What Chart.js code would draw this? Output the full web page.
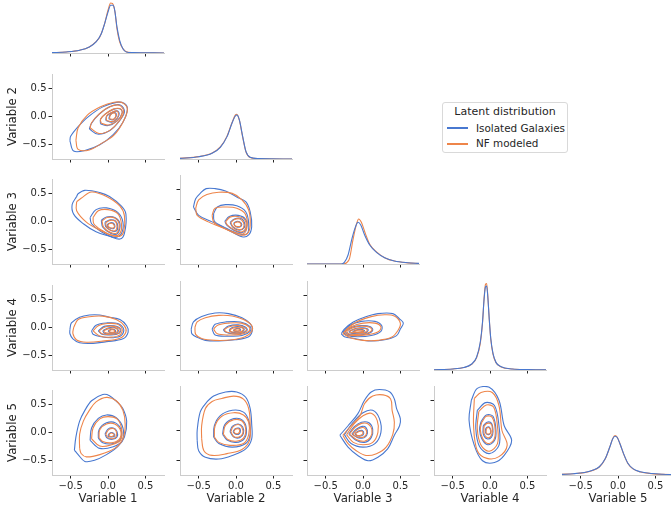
<!DOCTYPE html>
<html>
<head>
<meta charset="utf-8">
<script src="https://cdn.jsdelivr.net/npm/chart.js@4.4.0/dist/chart.umd.min.js"></script>
<style>
html, body { margin: 0; padding: 0; background: #fff; overflow: hidden; }
body { width: 671px; height: 510px; position: relative; font-family: 'DejaVu Sans', sans-serif; color: #262626; }
.panel { position: absolute; }
#legend { position: absolute; left: 442px; top: 102px; width: 124px; height: 49px; border: 1px solid #d9d9d9; border-radius: 3px; background: rgba(255,255,255,0.8); }
#legend .title { position: absolute; left: 0; right: 0; top: 2px; text-align: center; font-size: 11px; line-height: 13px; }
#legend .item { position: absolute; left: 33px; font-size: 10.4px; line-height: 12px; white-space: nowrap; }
#legend .swatch { position: absolute; left: 4px; width: 21px; height: 1.5px; }
</style>
</head>
<body>
<div id="legend">
  <div class="title">Latent distribution</div>
  <div class="swatch" id="sw0" style="top:24px"></div>
  <div class="item" id="lb0" style="top:18.5px"></div>
  <div class="swatch" id="sw1" style="top:40px"></div>
  <div class="item" id="lb1" style="top:34px"></div>
</div>
<script>
const varNames = ['Variable 1', 'Variable 2', 'Variable 3', 'Variable 4', 'Variable 5'];
const seriesNames = ['Isolated Galaxies', 'NF modeled'];
const tickValues = [-0.5, 0, 0.5];

// 1-D densities on the diagonal: [value, density]
const kdeGal1 = [[-0.75,0.03],[-0.56,0.08],[-0.38,0.21],[-0.25,0.47],[-0.16,0.87],[-0.09,1.52],[-0.045,2.31],[0.0,3.22],[0.036,3.75],[0.067,3.75],[0.09,3.36],[0.12,2.05],[0.156,1.0],[0.2,0.34],[0.246,0.08],[0.33,0.03],[0.75,0.0]];
const kdeNf1 = [[-0.75,0.02],[-0.56,0.08],[-0.38,0.22],[-0.25,0.48],[-0.16,0.9],[-0.11,1.26],[-0.045,2.31],[0.0,3.36],[0.036,3.93],[0.06,3.9],[0.094,3.22],[0.12,1.91],[0.156,0.87],[0.21,0.26],[0.27,0.05],[0.4,0.02],[0.75,0.0]];
const kdeGal2 = [[-0.75,0.05],[-0.5,0.18],[-0.32,0.45],[-0.21,0.92],[-0.12,1.76],[-0.054,2.81],[-0.009,3.38],[0.013,3.46],[0.045,3.07],[0.09,1.76],[0.134,0.58],[0.19,0.13],[0.30,0.03],[0.75,0.0]];
const kdeNf2 = [[-0.75,0.05],[-0.5,0.19],[-0.32,0.47],[-0.21,0.95],[-0.12,1.8],[-0.054,2.85],[-0.01,3.45],[0.01,3.51],[0.045,3.05],[0.09,1.7],[0.134,0.55],[0.19,0.12],[0.30,0.03],[0.75,0.0]];
const kdeGal3 = [[-0.75,0.0],[-0.29,0.0],[-0.25,0.13],[-0.2,0.71],[-0.147,2.02],[-0.10,2.94],[-0.067,3.28],[-0.03,3.07],[0.022,2.28],[0.09,1.49],[0.18,0.92],[0.29,0.50],[0.42,0.24],[0.60,0.10],[0.75,0.05]];
const kdeNf3 = [[-0.75,0.0],[-0.27,0.0],[-0.22,0.1],[-0.18,0.45],[-0.134,1.91],[-0.09,3.07],[-0.058,3.54],[-0.022,3.28],[0.031,2.41],[0.09,1.55],[0.18,0.95],[0.29,0.50],[0.42,0.23],[0.60,0.09],[0.75,0.04]];
const kdeGal4 = [[-0.75,0.02],[-0.5,0.08],[-0.35,0.2],[-0.25,0.45],[-0.18,1.0],[-0.13,2.2],[-0.10,3.8],[-0.08,5.5],[-0.06,6.55],[-0.045,6.6],[-0.03,5.8],[-0.01,4.0],[0.01,2.5],[0.04,1.3],[0.08,0.6],[0.15,0.25],[0.3,0.08],[0.5,0.03],[0.75,0.01]];
const kdeNf4 = [[-0.75,0.02],[-0.5,0.08],[-0.35,0.19],[-0.25,0.43],[-0.18,0.95],[-0.13,2.1],[-0.10,3.7],[-0.08,5.6],[-0.06,6.75],[-0.045,6.8],[-0.03,5.9],[-0.01,4.0],[0.01,2.45],[0.04,1.25],[0.08,0.58],[0.15,0.24],[0.3,0.08],[0.5,0.03],[0.75,0.01]];
const kdeGal5 = [[-0.75,0.05],[-0.6,0.1],[-0.45,0.2],[-0.35,0.35],[-0.25,0.65],[-0.17,1.3],[-0.11,2.2],[-0.07,2.85],[-0.04,3.05],[-0.01,2.95],[0.03,2.4],[0.08,1.6],[0.13,0.95],[0.2,0.5],[0.3,0.25],[0.45,0.12],[0.6,0.06],[0.75,0.03]];
const kdeNf5 = [[-0.75,0.05],[-0.6,0.1],[-0.45,0.19],[-0.35,0.34],[-0.25,0.63],[-0.17,1.28],[-0.11,2.2],[-0.07,2.88],[-0.04,3.1],[-0.01,2.97],[0.03,2.4],[0.08,1.58],[0.13,0.93],[0.2,0.48],[0.3,0.24],[0.45,0.11],[0.6,0.05],[0.75,0.03]];

// 2-D density contours, outermost level first: [x, y]
const galV2V1 = [
  [[-0.51,-0.43],[-0.46,-0.61],[-0.31,-0.60],[-0.11,-0.50],[0.07,-0.32],[0.20,-0.10],[0.26,0.13],[0.22,0.23],[0.11,0.25],[-0.07,0.17],[-0.27,-0.01],[-0.40,-0.18],[-0.50,-0.35]],
  [[-0.25,-0.22],[-0.14,-0.31],[0.02,-0.25],[0.14,-0.10],[0.22,0.08],[0.17,0.20],[0.04,0.18],[-0.12,0.04],[-0.22,-0.12]],
  [[-0.10,-0.13],[0.00,-0.16],[0.12,-0.08],[0.19,0.06],[0.17,0.13],[0.08,0.13],[-0.03,0.05],[-0.10,-0.05]],
  [[-0.03,-0.07],[0.05,-0.10],[0.12,-0.04],[0.15,0.05],[0.12,0.10],[0.04,0.06],[-0.02,0.00]],
  [[0.01,-0.04],[0.06,-0.06],[0.10,-0.02],[0.11,0.05],[0.08,0.07],[0.03,0.03]]
];
const nfV2V1 = [
  [[-0.43,-0.42],[-0.40,-0.58],[-0.25,-0.59],[-0.08,-0.47],[0.08,-0.33],[0.20,-0.10],[0.26,0.12],[0.20,0.24],[0.08,0.25],[-0.10,0.17],[-0.28,0.02],[-0.40,-0.20]],
  [[-0.24,-0.20],[-0.12,-0.30],[0.03,-0.24],[0.15,-0.08],[0.21,0.09],[0.15,0.20],[0.02,0.17],[-0.13,0.03],[-0.22,-0.11]],
  [[-0.09,-0.12],[0.01,-0.15],[0.13,-0.07],[0.19,0.07],[0.16,0.14],[0.07,0.13],[-0.04,0.04],[-0.10,-0.05]],
  [[-0.02,-0.07],[0.06,-0.09],[0.12,-0.03],[0.14,0.06],[0.11,0.10],[0.03,0.06],[-0.02,0.01]],
  [[0.02,-0.04],[0.07,-0.05],[0.10,-0.01],[0.10,0.05],[0.07,0.06],[0.03,0.02]]
];
const galV3V1 = [
  [[-0.42,0.44],[-0.48,0.30],[-0.46,0.13],[-0.33,-0.04],[-0.16,-0.18],[0.02,-0.26],[0.16,-0.31],[0.22,-0.21],[0.24,0.13],[0.18,0.27],[0.02,0.44],[-0.11,0.51],[-0.31,0.55],[-0.40,0.49]],
  [[-0.24,0.07],[-0.16,0.21],[-0.02,0.24],[0.13,0.16],[0.20,-0.01],[0.18,-0.21],[0.09,-0.28],[-0.09,-0.18],[-0.22,-0.04]],
  [[-0.09,0.02],[-0.02,0.08],[0.09,0.07],[0.16,-0.04],[0.13,-0.21],[0.04,-0.21],[-0.07,-0.10]],
  [[-0.04,-0.01],[0.03,0.03],[0.10,0.01],[0.13,-0.08],[0.11,-0.17],[0.04,-0.16],[-0.03,-0.09]],
  [[0.00,-0.04],[0.05,-0.02],[0.09,-0.06],[0.08,-0.12],[0.03,-0.12],[-0.01,-0.08]]
];
const nfV3V1 = [
  [[-0.42,0.35],[-0.42,0.19],[-0.29,-0.01],[-0.11,-0.15],[0.04,-0.24],[0.16,-0.26],[0.21,-0.18],[0.22,0.10],[0.16,0.27],[-0.02,0.44],[-0.22,0.52],[-0.36,0.41]],
  [[-0.20,0.07],[-0.13,0.19],[0.00,0.21],[0.13,0.14],[0.18,-0.04],[0.16,-0.21],[0.07,-0.25],[-0.09,-0.15],[-0.19,-0.04]],
  [[-0.08,0.01],[-0.01,0.07],[0.09,0.06],[0.15,-0.05],[0.12,-0.20],[0.03,-0.19],[-0.06,-0.10]],
  [[-0.03,-0.02],[0.03,0.02],[0.10,0.00],[0.12,-0.09],[0.10,-0.16],[0.03,-0.15],[-0.02,-0.09]],
  [[0.01,-0.04],[0.05,-0.03],[0.08,-0.06],[0.08,-0.11],[0.03,-0.11],[0.00,-0.08]]
];
const galV4V1 = [
  [[-0.51,-0.03],[-0.49,0.08],[-0.38,0.18],[-0.25,0.22],[-0.11,0.22],[0.02,0.18],[0.16,0.14],[0.25,0.03],[0.27,-0.08],[0.20,-0.20],[-0.02,-0.25],[-0.20,-0.28],[-0.38,-0.27],[-0.47,-0.20],[-0.51,-0.11]],
  [[-0.22,-0.06],[-0.16,0.04],[-0.02,0.08],[0.13,0.07],[0.21,-0.03],[0.18,-0.14],[0.07,-0.18],[-0.11,-0.16],[-0.20,-0.12]],
  [[-0.13,-0.06],[-0.05,0.02],[0.08,0.03],[0.17,-0.03],[0.15,-0.10],[0.04,-0.13],[-0.08,-0.12]],
  [[-0.07,-0.06],[0.00,-0.01],[0.09,0.00],[0.14,-0.05],[0.11,-0.10],[0.02,-0.11],[-0.05,-0.10]],
  [[0.00,-0.06],[0.05,-0.03],[0.10,-0.05],[0.09,-0.09],[0.03,-0.09]]
];
const nfV4V1 = [
  [[-0.46,0.00],[-0.40,0.14],[-0.25,0.19],[-0.07,0.20],[0.11,0.14],[0.22,0.03],[0.24,-0.08],[0.16,-0.19],[-0.07,-0.24],[-0.29,-0.26],[-0.42,-0.22],[-0.47,-0.11]],
  [[-0.20,-0.06],[-0.13,0.03],[-0.01,0.07],[0.12,0.06],[0.19,-0.03],[0.16,-0.13],[0.04,-0.17],[-0.11,-0.15]],
  [[-0.12,-0.06],[-0.04,0.01],[0.08,0.02],[0.16,-0.03],[0.14,-0.10],[0.03,-0.12],[-0.08,-0.11]],
  [[-0.06,-0.06],[0.01,-0.02],[0.09,-0.01],[0.13,-0.05],[0.10,-0.09],[0.02,-0.10],[-0.04,-0.09]],
  [[0.01,-0.06],[0.05,-0.04],[0.09,-0.05],[0.08,-0.08],[0.03,-0.08]]
];
const galV5V1 = [
  [[-0.45,-0.31],[-0.43,-0.08],[-0.38,0.20],[-0.31,0.39],[-0.22,0.56],[-0.07,0.67],[0.02,0.65],[0.13,0.53],[0.20,0.42],[0.25,0.20],[0.22,-0.08],[0.13,-0.25],[-0.02,-0.39],[-0.18,-0.49],[-0.31,-0.51],[-0.40,-0.39]],
  [[-0.24,-0.14],[-0.22,0.08],[-0.13,0.25],[-0.02,0.31],[0.11,0.26],[0.20,0.08],[0.19,-0.14],[0.07,-0.25],[-0.11,-0.28]],
  [[-0.13,-0.10],[-0.12,0.05],[-0.02,0.17],[0.10,0.17],[0.18,0.03],[0.16,-0.13],[0.05,-0.20],[-0.07,-0.18]],
  [[-0.04,-0.03],[0.00,0.06],[0.07,0.08],[0.12,0.02],[0.12,-0.08],[0.06,-0.12],[-0.01,-0.10]],
  [[0.00,-0.04],[0.04,0.00],[0.08,-0.02],[0.09,-0.06],[0.05,-0.08],[0.01,-0.07]]
];
const nfV5V1 = [
  [[-0.38,-0.28],[-0.38,-0.03],[-0.33,0.20],[-0.25,0.39],[-0.16,0.54],[-0.02,0.62],[0.11,0.56],[0.20,0.39],[0.23,0.14],[0.20,-0.11],[0.09,-0.28],[-0.11,-0.39],[-0.29,-0.43],[-0.36,-0.37]],
  [[-0.22,-0.11],[-0.20,0.08],[-0.11,0.24],[0.00,0.28],[0.12,0.24],[0.18,0.08],[0.17,-0.13],[0.04,-0.22],[-0.11,-0.24]],
  [[-0.12,-0.09],[-0.11,0.05],[-0.02,0.15],[0.09,0.15],[0.17,0.03],[0.15,-0.12],[0.05,-0.18],[-0.07,-0.16]],
  [[-0.03,-0.03],[0.01,0.05],[0.07,0.07],[0.11,0.02],[0.11,-0.07],[0.06,-0.11],[0.00,-0.09]],
  [[0.01,-0.04],[0.04,-0.01],[0.07,-0.02],[0.08,-0.05],[0.05,-0.07],[0.02,-0.06]]
];
const galV3V2 = [
  [[-0.57,0.21],[-0.54,0.35],[-0.48,0.44],[-0.40,0.52],[-0.28,0.52],[-0.14,0.48],[0.01,0.38],[0.13,0.30],[0.19,0.13],[0.21,-0.12],[0.17,-0.26],[0.08,-0.29],[-0.10,-0.18],[-0.32,-0.04],[-0.50,0.07]],
  [[-0.30,0.10],[-0.25,0.21],[-0.14,0.25],[0.01,0.23],[0.13,0.13],[0.17,-0.07],[0.15,-0.24],[0.04,-0.24],[-0.17,-0.12],[-0.29,-0.03]],
  [[-0.15,-0.03],[-0.09,0.05],[0.03,0.07],[0.13,0.00],[0.14,-0.14],[0.08,-0.22],[-0.03,-0.18],[-0.12,-0.10]],
  [[-0.08,-0.05],[-0.02,0.01],[0.06,0.02],[0.11,-0.04],[0.11,-0.14],[0.04,-0.18],[-0.04,-0.13]],
  [[-0.03,-0.06],[0.02,-0.03],[0.07,-0.06],[0.07,-0.11],[0.02,-0.13],[-0.02,-0.10]]
];
const nfV3V2 = [
  [[-0.54,0.19],[-0.50,0.33],[-0.39,0.42],[-0.23,0.46],[-0.05,0.44],[0.08,0.33],[0.17,0.16],[0.19,-0.10],[0.15,-0.24],[0.04,-0.26],[-0.14,-0.16],[-0.37,-0.04],[-0.52,0.07]],
  [[-0.32,0.07],[-0.28,0.19],[-0.12,0.21],[0.01,0.19],[0.12,0.10],[0.15,-0.10],[0.10,-0.24],[-0.03,-0.21],[-0.21,-0.12],[-0.30,-0.04]],
  [[-0.14,-0.04],[-0.08,0.04],[0.03,0.05],[0.12,-0.01],[0.13,-0.14],[0.07,-0.21],[-0.03,-0.17],[-0.11,-0.10]],
  [[-0.07,-0.05],[-0.02,0.00],[0.05,0.01],[0.10,-0.05],[0.10,-0.14],[0.04,-0.17],[-0.04,-0.12]],
  [[-0.02,-0.06],[0.02,-0.04],[0.06,-0.06],[0.06,-0.11],[0.02,-0.12],[-0.02,-0.10]]
];
const galV4V2 = [
  [[-0.60,-0.06],[-0.57,0.06],[-0.46,0.15],[-0.28,0.21],[-0.10,0.20],[0.08,0.13],[0.19,0.03],[0.22,-0.07],[0.17,-0.19],[-0.01,-0.24],[-0.23,-0.26],[-0.41,-0.25],[-0.52,-0.20],[-0.59,-0.14]],
  [[-0.32,-0.06],[-0.28,0.02],[-0.14,0.06],[0.06,0.06],[0.19,-0.02],[0.19,-0.10],[0.08,-0.17],[-0.10,-0.18],[-0.28,-0.16]],
  [[-0.17,-0.07],[-0.10,-0.01],[0.03,0.01],[0.13,-0.03],[0.15,-0.08],[0.08,-0.13],[-0.05,-0.14],[-0.14,-0.11]],
  [[-0.09,-0.07],[-0.04,-0.03],[0.05,-0.02],[0.11,-0.06],[0.08,-0.11],[-0.02,-0.12],[-0.08,-0.10]],
  [[-0.03,-0.07],[0.01,-0.05],[0.06,-0.06],[0.05,-0.09],[0.00,-0.10],[-0.03,-0.09]]
];
const nfV4V2 = [
  [[-0.55,-0.03],[-0.52,0.06],[-0.41,0.13],[-0.23,0.17],[-0.05,0.16],[0.10,0.10],[0.21,0.00],[0.21,-0.10],[0.12,-0.19],[-0.05,-0.24],[-0.28,-0.25],[-0.46,-0.22],[-0.54,-0.15]],
  [[-0.30,-0.06],[-0.24,0.01],[-0.10,0.04],[0.07,0.04],[0.18,-0.03],[0.17,-0.10],[0.06,-0.15],[-0.10,-0.16],[-0.25,-0.14]],
  [[-0.16,-0.07],[-0.09,-0.02],[0.03,0.00],[0.12,-0.04],[0.14,-0.08],[0.07,-0.12],[-0.05,-0.13],[-0.13,-0.11]],
  [[-0.08,-0.07],[-0.03,-0.04],[0.05,-0.03],[0.10,-0.06],[0.07,-0.10],[-0.02,-0.11],[-0.07,-0.10]],
  [[-0.02,-0.07],[0.01,-0.06],[0.05,-0.06],[0.04,-0.09],[0.00,-0.09],[-0.03,-0.08]]
];
const galV5V2 = [
  [[-0.52,-0.17],[-0.52,0.00],[-0.48,0.31],[-0.41,0.45],[-0.30,0.58],[-0.14,0.65],[0.01,0.65],[0.13,0.56],[0.19,0.37],[0.21,0.11],[0.21,-0.14],[0.13,-0.31],[-0.05,-0.42],[-0.23,-0.48],[-0.41,-0.45],[-0.50,-0.34]],
  [[-0.30,-0.11],[-0.29,0.08],[-0.21,0.25],[-0.05,0.34],[0.10,0.31],[0.17,0.17],[0.19,-0.06],[0.13,-0.22],[-0.05,-0.28],[-0.23,-0.22]],
  [[-0.18,-0.06],[-0.15,0.10],[-0.03,0.20],[0.09,0.17],[0.14,0.02],[0.11,-0.14],[0.00,-0.20],[-0.12,-0.16]],
  [[-0.08,-0.02],[-0.05,0.07],[0.03,0.11],[0.09,0.06],[0.10,-0.05],[0.05,-0.12],[-0.03,-0.11]],
  [[-0.04,-0.02],[-0.01,0.03],[0.04,0.04],[0.06,0.00],[0.04,-0.06],[-0.01,-0.06]]
];
const nfV5V2 = [
  [[-0.46,-0.14],[-0.46,0.08],[-0.41,0.37],[-0.32,0.49],[-0.19,0.54],[-0.03,0.58],[0.10,0.53],[0.17,0.37],[0.19,0.08],[0.18,-0.17],[0.08,-0.32],[-0.12,-0.39],[-0.32,-0.42],[-0.43,-0.34]],
  [[-0.29,-0.11],[-0.28,0.08],[-0.19,0.24],[-0.03,0.30],[0.10,0.26],[0.17,0.14],[0.17,-0.07],[0.10,-0.22],[-0.08,-0.25],[-0.23,-0.20]],
  [[-0.17,-0.06],[-0.14,0.09],[-0.03,0.18],[0.08,0.16],[0.13,0.02],[0.10,-0.13],[0.00,-0.18],[-0.11,-0.15]],
  [[-0.07,-0.02],[-0.04,0.06],[0.03,0.10],[0.08,0.05],[0.09,-0.05],[0.04,-0.11],[-0.03,-0.10]],
  [[-0.03,-0.02],[-0.01,0.02],[0.03,0.03],[0.05,0.00],[0.03,-0.05],[-0.01,-0.05]]
];
const galV4V3 = [
  [[-0.29,-0.14],[-0.25,-0.06],[-0.13,0.06],[0.02,0.14],[0.20,0.20],[0.40,0.20],[0.49,0.11],[0.54,0.04],[0.50,-0.06],[0.45,-0.17],[0.29,-0.24],[0.07,-0.26],[-0.11,-0.22],[-0.25,-0.19]],
  [[-0.27,-0.11],[-0.18,0.00],[-0.02,0.07],[0.16,0.07],[0.25,0.00],[0.24,-0.10],[0.11,-0.17],[-0.07,-0.19],[-0.21,-0.17]],
  [[-0.24,-0.10],[-0.15,-0.03],[-0.02,0.00],[0.10,-0.02],[0.13,-0.08],[0.06,-0.14],[-0.08,-0.16],[-0.20,-0.15]],
  [[-0.19,-0.10],[-0.10,-0.05],[0.00,-0.04],[0.07,-0.07],[0.04,-0.12],[-0.06,-0.13],[-0.16,-0.13]],
  [[-0.14,-0.10],[-0.07,-0.07],[-0.01,-0.07],[0.02,-0.09],[-0.03,-0.11],[-0.10,-0.12]]
];
const nfV4V3 = [
  [[-0.27,-0.14],[-0.20,-0.04],[-0.07,0.07],[0.11,0.15],[0.29,0.18],[0.42,0.16],[0.50,0.04],[0.47,-0.08],[0.38,-0.20],[0.20,-0.25],[0.00,-0.25],[-0.16,-0.21]],
  [[-0.25,-0.11],[-0.16,-0.02],[0.00,0.04],[0.16,0.04],[0.24,-0.02],[0.21,-0.10],[0.09,-0.15],[-0.07,-0.17],[-0.20,-0.16]],
  [[-0.22,-0.10],[-0.14,-0.04],[-0.02,-0.01],[0.09,-0.03],[0.12,-0.08],[0.05,-0.13],[-0.08,-0.15],[-0.19,-0.14]],
  [[-0.18,-0.10],[-0.10,-0.06],[0.00,-0.05],[0.06,-0.07],[0.03,-0.11],[-0.06,-0.12],[-0.15,-0.12]],
  [[-0.13,-0.10],[-0.07,-0.08],[-0.01,-0.08],[0.01,-0.09],[-0.03,-0.11],[-0.10,-0.11]]
];
const galV5V3 = [
  [[-0.31,-0.08],[-0.20,0.08],[-0.07,0.28],[0.02,0.51],[0.11,0.65],[0.22,0.69],[0.36,0.65],[0.42,0.53],[0.45,0.37],[0.50,0.20],[0.49,0.08],[0.42,-0.08],[0.33,-0.31],[0.20,-0.45],[0.07,-0.51],[-0.07,-0.42],[-0.20,-0.28]],
  [[-0.25,-0.07],[-0.13,0.14],[0.00,0.30],[0.13,0.34],[0.22,0.20],[0.24,-0.03],[0.16,-0.22],[0.00,-0.28],[-0.16,-0.22]],
  [[-0.19,-0.06],[-0.12,0.06],[-0.02,0.14],[0.08,0.13],[0.13,0.02],[0.11,-0.12],[0.02,-0.20],[-0.10,-0.16]],
  [[-0.15,-0.06],[-0.09,0.02],[-0.01,0.07],[0.04,0.05],[0.06,-0.04],[0.02,-0.12],[-0.07,-0.12]],
  [[-0.11,-0.05],[-0.06,-0.01],[-0.01,0.00],[0.01,-0.05],[-0.02,-0.09],[-0.08,-0.09]]
];
const nfV5V3 = [
  [[-0.27,-0.08],[-0.16,0.08],[-0.04,0.25],[0.02,0.45],[0.13,0.58],[0.27,0.60],[0.37,0.53],[0.39,0.34],[0.42,0.14],[0.40,-0.06],[0.31,-0.28],[0.18,-0.39],[0.04,-0.42],[-0.09,-0.34],[-0.20,-0.22]],
  [[-0.22,-0.07],[-0.12,0.11],[0.00,0.25],[0.11,0.29],[0.19,0.17],[0.20,-0.03],[0.13,-0.20],[0.00,-0.24],[-0.13,-0.20]],
  [[-0.18,-0.06],[-0.11,0.05],[-0.02,0.12],[0.07,0.11],[0.12,0.01],[0.10,-0.11],[0.02,-0.18],[-0.09,-0.15]],
  [[-0.14,-0.06],[-0.08,0.01],[-0.01,0.05],[0.03,0.03],[0.05,-0.04],[0.01,-0.11],[-0.07,-0.11]],
  [[-0.10,-0.05],[-0.06,-0.02],[-0.02,-0.01],[0.00,-0.05],[-0.03,-0.08],[-0.08,-0.08]]
];
const galV5V4 = [
  [[-0.25,0.51],[-0.17,0.71],[-0.01,0.73],[0.12,0.51],[0.19,0.08],[0.29,-0.17],[0.19,-0.42],[0.06,-0.54],[-0.10,-0.51],[-0.21,-0.25],[-0.28,0.17]],
  [[-0.17,0.34],[-0.06,0.47],[0.06,0.42],[0.12,0.08],[0.12,-0.25],[-0.01,-0.39],[-0.14,-0.27],[-0.19,0.03]],
  [[-0.12,0.15],[-0.05,0.26],[0.04,0.24],[0.08,0.00],[0.06,-0.17],[-0.03,-0.24],[-0.11,-0.14],[-0.14,0.02]],
  [[-0.09,0.08],[-0.04,0.14],[0.02,0.12],[0.04,-0.02],[0.02,-0.11],[-0.04,-0.14],[-0.09,-0.06]],
  [[-0.06,0.03],[-0.03,0.06],[0.00,0.04],[0.01,-0.03],[-0.02,-0.07],[-0.06,-0.04]]
];
const nfV5V4 = [
  [[-0.21,0.54],[-0.12,0.64],[0.03,0.64],[0.12,0.42],[0.16,0.00],[0.23,-0.25],[0.12,-0.44],[-0.04,-0.47],[-0.17,-0.34],[-0.22,0.08]],
  [[-0.15,0.32],[-0.05,0.43],[0.05,0.39],[0.10,0.07],[0.10,-0.22],[-0.01,-0.35],[-0.12,-0.25],[-0.17,0.03]],
  [[-0.11,0.14],[-0.05,0.24],[0.03,0.22],[0.07,0.00],[0.05,-0.16],[-0.03,-0.22],[-0.10,-0.13],[-0.13,0.02]],
  [[-0.08,0.07],[-0.04,0.12],[0.02,0.10],[0.03,-0.02],[0.01,-0.10],[-0.04,-0.12],[-0.08,-0.05]],
  [[-0.05,0.02],[-0.03,0.05],[0.00,0.03],[0.01,-0.03],[-0.02,-0.06],[-0.05,-0.04]]
];

const diagGal = [kdeGal1, kdeGal2, kdeGal3, kdeGal4, kdeGal5];
const diagNf = [kdeNf1, kdeNf2, kdeNf3, kdeNf4, kdeNf5];
// [row, column, galaxies, NF]
const pairs = [
  [1, 0, galV2V1, nfV2V1],
  [2, 0, galV3V1, nfV3V1], [2, 1, galV3V2, nfV3V2],
  [3, 0, galV4V1, nfV4V1], [3, 1, galV4V2, nfV4V2], [3, 2, galV4V3, nfV4V3],
  [4, 0, galV5V1, nfV5V1], [4, 1, galV5V2, nfV5V2], [4, 2, galV5V3, nfV5V3], [4, 3, galV5V4, nfV5V4]
];

const blue = '#4878d0';
const orange = '#ee854a';
const spineColor = '#cccccc';
const tickColor = '#262626';
const textColor = '#262626';
const tickFont = { family: 'DejaVu Sans', size: 10 };
const labelFont = { family: 'DejaVu Sans', size: 11.8 };

// grid geometry (chart-area edges in page pixels)
const colLeft = [52, 180, 307, 434, 562];
const rowBottom = [53, 159, 264, 370, 475];
const areaW = 112, areaH = 89;

document.getElementById('sw0').style.background = blue;
document.getElementById('sw1').style.background = orange;
document.getElementById('lb0').textContent = seriesNames[0];
document.getElementById('lb1').textContent = seriesNames[1];

function fmtTick(v) {
  return (v < 0 ? '\u2212' : '') + Math.abs(v).toFixed(1);
}

function toPoints(arr, closed) {
  const pts = closed ? arr.concat([arr[0]]) : arr;
  return pts.map(p => ({ x: p[0], y: p[1] }));
}

// first dataset in the list ends up drawn on top
function lineSet(arr, color, closed) {
  return {
    data: toPoints(arr, closed),
    showLine: true,
    borderColor: color,
    borderWidth: 1.1,
    pointRadius: 0,
    fill: false,
    tension: closed ? 0.35 : 0.2,
    cubicInterpolationMode: closed ? 'default' : 'monotone'
  };
}

function addPanel(r, c, datasets) {
  const diag = r === c;
  const padL = c === 0 ? colLeft[0] : 10;
  const padB = r === 4 ? 510 - rowBottom[4] : 8;
  const padT = 4, padR = 4;

  const canvas = document.createElement('canvas');
  canvas.className = 'panel';
  canvas.width = padL + areaW + padR;
  canvas.height = padT + areaH + padB;
  canvas.style.left = (colLeft[c] - padL) + 'px';
  canvas.style.top = (rowBottom[r] - areaH - padT) + 'px';
  document.body.appendChild(canvas);

  const xScale = {
    type: 'linear', min: -0.75, max: 0.75,
    afterBuildTicks: s => { s.ticks = tickValues.map(v => ({ value: v })); },
    afterFit: s => { s.height = padB; },
    grid: { drawOnChartArea: false, drawTicks: true, tickLength: 3.5, tickColor: tickColor, tickWidth: 1 },
    border: { display: true, color: spineColor, width: 1 },
    ticks: { display: r === 4, padding: 1.5, color: textColor, font: tickFont, callback: fmtTick, maxRotation: 0, autoSkip: false },
    title: { display: r === 4, text: varNames[c], color: textColor, font: labelFont, padding: { top: 0, bottom: 4.2 } }
  };

  const yScale = diag ? {
    type: 'linear', display: false, min: 0, max: 7
  } : {
    type: 'linear', min: -0.75, max: 0.75,
    afterBuildTicks: s => { s.ticks = tickValues.map(v => ({ value: v })); },
    afterFit: s => { s.width = padL; },
    grid: { drawOnChartArea: false, drawTicks: true, tickLength: 3.5, tickColor: tickColor, tickWidth: 1 },
    border: { display: true, color: spineColor, width: 1 },
    ticks: { display: c === 0, padding: 2, color: textColor, font: tickFont, callback: fmtTick, autoSkip: false },
    title: { display: c === 0, text: varNames[r], color: textColor, font: labelFont, padding: { top: 6, bottom: 0 } }
  };

  new Chart(canvas, {
    type: 'scatter',
    data: { datasets: datasets },
    options: {
      responsive: false,
      animation: false,
      layout: { padding: { top: padT, right: padR, bottom: 0, left: diag ? padL : 0 } },
      plugins: { legend: { display: false }, tooltip: { enabled: false } },
      scales: { x: xScale, y: yScale }
    }
  });
}

// diagonal: 1-D densities, galaxies curve on top
for (let i = 0; i < 5; i++) {
  addPanel(i, i, [lineSet(diagGal[i], blue, false), lineSet(diagNf[i], orange, false)]);
}

// lower triangle: contour levels, NF contours on top
pairs.forEach(([r, c, gal, nf]) => {
  const sets = [];
  nf.forEach(level => sets.push(lineSet(level, orange, true)));
  gal.forEach(level => sets.push(lineSet(level, blue, true)));
  addPanel(r, c, sets);
});
</script>
</body>
</html>
